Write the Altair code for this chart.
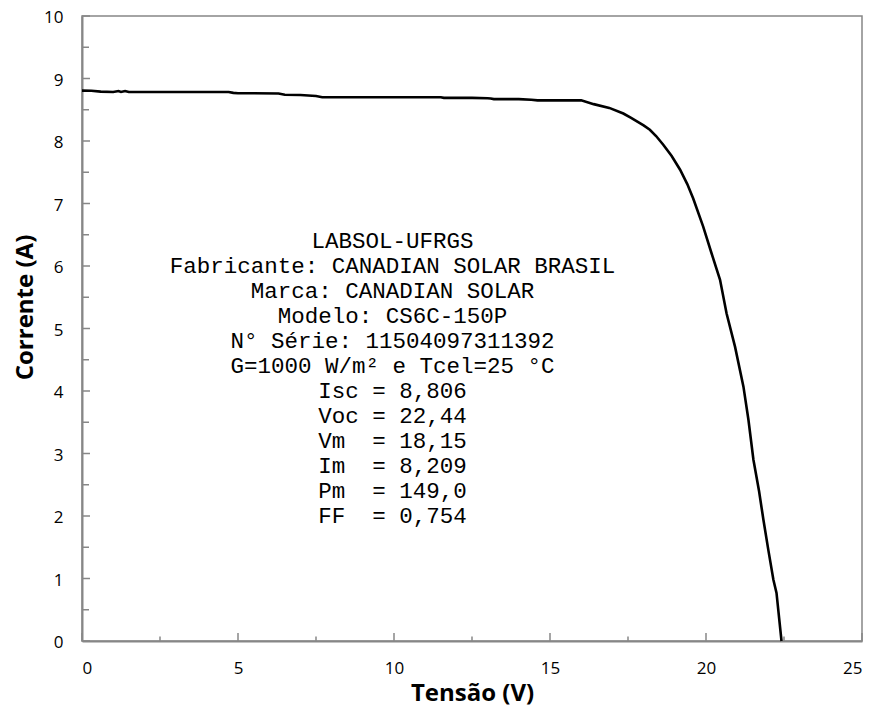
import altair as alt
import pandas as pd

# Tensão (V) and Corrente (A)
V = [0.0, 0.3, 0.6, 1.0, 1.17, 1.25, 1.38, 1.5, 2.5, 3.5, 4.7, 4.85, 5.0, 5.5,
     6.3, 6.5, 7.0, 7.5, 7.7, 8.5, 9.5, 10.5, 11.5, 11.6, 12.5, 13.0, 13.1,
     13.2, 14.0, 14.4, 14.6, 15.0, 15.5, 16.0, 16.4, 16.9, 17.35, 17.6, 17.8,
     18.0, 18.2, 18.4, 18.63, 18.9, 19.17, 19.4, 19.59, 19.91, 20.18, 20.45,
     20.66, 20.93, 21.2, 21.36, 21.52, 21.7, 21.84, 22.0, 22.16, 22.26, 22.42]
I = [8.806, 8.805, 8.79, 8.785, 8.80, 8.785, 8.80, 8.785, 8.785, 8.785, 8.785,
     8.77, 8.765, 8.765, 8.76, 8.74, 8.735, 8.72, 8.70, 8.70, 8.70, 8.70, 8.70,
     8.69, 8.69, 8.685, 8.68, 8.67, 8.67, 8.66, 8.65, 8.65, 8.65, 8.65, 8.59,
     8.53, 8.44, 8.37, 8.31, 8.25, 8.18, 8.08, 7.94, 7.76, 7.54, 7.31, 7.08,
     6.63, 6.20, 5.78, 5.24, 4.71, 4.07, 3.54, 2.90, 2.40, 1.94, 1.45, 0.98,
     0.77, 0.0]

x_labels = [0, 5, 10, 15, 20, 25]
y_labels = [0, 1, 2, 3, 4, 5, 6, 7, 8, 9, 10]
x_major = [0, 5, 10, 15, 20, 25]
x_minor = [2.5, 7.5, 12.5, 17.5, 22.5]
y_major = [0, 1, 2, 3, 4, 5, 6, 7, 8, 9, 10]
y_minor = [0.5, 1.5, 2.5, 3.5, 4.5, 5.5, 6.5, 7.5, 8.5, 9.5]

NB = "\u00a0"
info_lines = [
    "LABSOL-UFRGS",
    "Fabricante: CANADIAN SOLAR BRASIL",
    "Marca: CANADIAN SOLAR",
    "Modelo: CS6C-150P",
    "N° Série: 11504097311392",
    "G=1000 W/m² e Tcel=25 °C",
    "Isc = 8,806",
    "Voc = 22,44",
    "Vm  = 18,15",
    "Im  = 8,209",
    "Pm  = 149,0",
    "FF  = 0,754",
]
info_lines = [s.replace(" ", NB) for s in info_lines]
info_anchor_v = [9.95]
info_anchor_i = [6.4]

W, H = 780, 625
GRAY = "#878787"

x_scale = alt.Scale(domain=[0, 25], nice=False, zero=False)
y_scale = alt.Scale(domain=[0, 10], nice=False, zero=False)

x_axis = alt.Axis(values=x_labels, ticks=False, grid=False,
                  title="Tensão (V)", labelPadding=19,
                  titleY=59, titleBaseline="alphabetic")
y_axis = alt.Axis(values=y_labels, ticks=False, grid=False,
                  title="Corrente (A)", labelPadding=19, labelOffset=1.5,
                  titleX=-50, titleY=291, titleBaseline="alphabetic")

curve = pd.DataFrame({"V": V, "I": I})

line = alt.Chart(curve).mark_line(color="black", strokeWidth=2.6).encode(
    x=alt.X("V:Q", scale=x_scale, axis=x_axis, title="Tensão (V)"),
    y=alt.Y("I:Q", scale=y_scale, axis=y_axis, title="Corrente (A)"),
)

def xticks(vals, length):
    return alt.Chart(pd.DataFrame({"V": vals})).mark_rule(
        color=GRAY, strokeWidth=1.5).encode(
        x=alt.X("V:Q", scale=x_scale, axis=x_axis, title="Tensão (V)"),
        y=alt.value(H), y2=alt.value(H - length))

def yticks(vals, length):
    return alt.Chart(pd.DataFrame({"I": vals})).mark_rule(
        color=GRAY, strokeWidth=1.5).encode(
        y=alt.Y("I:Q", scale=y_scale, axis=y_axis, title="Corrente (A)"),
        x=alt.value(0), x2=alt.value(length))

info = alt.Chart(pd.DataFrame({"V": info_anchor_v, "I": info_anchor_i})).mark_text(
    text=info_lines, font="Liberation Mono", fontSize=22.5, lineHeight=25,
    align="center", baseline="middle", color="black").encode(
    x=alt.X("V:Q", scale=x_scale, axis=x_axis, title="Tensão (V)"),
    y=alt.Y("I:Q", scale=y_scale, axis=y_axis, title="Corrente (A)"))

chart = alt.layer(
    line,
    xticks(x_major, 8), xticks(x_minor, 4.5),
    yticks(y_major, 8), yticks(y_minor, 7),
    info,
).properties(
    width=W, height=H,
    autosize=alt.AutoSizeParams(type="none"),
    padding={"left": 74, "top": 8, "right": 2, "bottom": 66},
).configure_view(
    stroke=GRAY, strokeWidth=1.5
).configure_axis(
    domainColor=GRAY, domainWidth=2,
    labelFont="Open Sans", labelFontSize=17, labelColor="black",
    titleFont="Open Sans", titleFontSize=24, titleFontWeight="bold",
    titleColor="black",
)

chart.save("out.html", embed_options={"renderer": "svg", "actions": False})
